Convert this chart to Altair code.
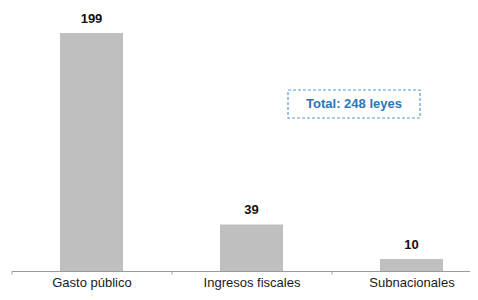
import altair as alt
import pandas as pd

categories = ["Gasto público", "Ingresos fiscales", "Subnacionales"]
values = [199, 39, 10]
total_label = "Total: 248 leyes"

df = pd.DataFrame({"cat": categories, "val": values})
FONT = "Liberation Sans"

x = alt.X("cat:N", sort=categories, title=None,
          scale=alt.Scale(range=[0, 480], paddingInner=0, paddingOuter=0),
          axis=alt.Axis(labelAngle=0, labelFont=FONT, labelFontSize=13,
                        labelColor="#1a1a1a", labelPadding=2, tickSize=3,
                        tickBand="extent", domainColor="#999999",
                        tickColor="#999999", labelLimit=0))
y = alt.Y("val:Q", scale=alt.Scale(domain=[0, 220]), axis=None)

bars = alt.Chart(df).mark_bar(color="#BFBFBF", width=alt.RelativeBandSize(0.394)).encode(x=x, y=y)
labels = alt.Chart(df).mark_text(font=FONT, fontSize=13, fontWeight="bold",
                                 color="#111111", dy=-10, baseline="alphabetic").encode(
    x=x, y=y, text="val:Q")

box = alt.Chart(pd.DataFrame({"t": [total_label]})).mark_rect(
    fill="white", stroke="#5B9BD5", strokeWidth=1.2, strokeDash=[3, 2]).encode(
    x=alt.value(276.5), x2=alt.value(408.5), y=alt.value(82), y2=alt.value(110))
box_text = alt.Chart(pd.DataFrame({"t": [total_label]})).mark_text(
    font=FONT, fontSize=13, fontWeight="bold", color="#2E75B6", baseline="middle").encode(
    x=alt.value(342.5), y=alt.value(96), text="t:N")

chart = alt.layer(bars, labels, box, box_text).properties(
    width=458.5, height=263,
    padding={"left": 3.5, "top": 0, "right": 0, "bottom": 21},
    autosize=alt.AutoSizeParams(type="none"),
).configure_view(stroke=None)

chart.save("out.html", embed_options={"renderer": "svg", "actions": False})
